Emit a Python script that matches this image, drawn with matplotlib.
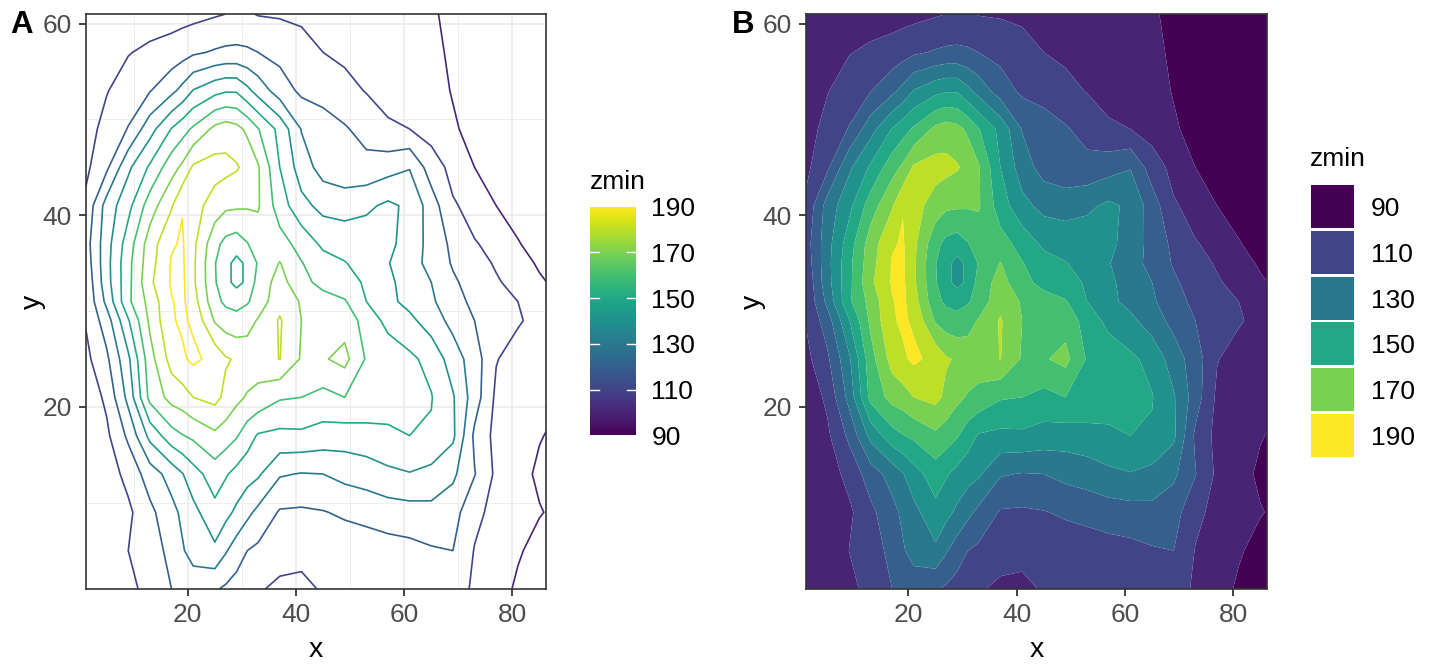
import numpy as np
import matplotlib
matplotlib.use("Agg")
import matplotlib.pyplot as plt
from matplotlib.cm import ScalarMappable
from matplotlib.colors import Normalize

plt.rcParams['font.family'] = ['Liberation Sans', 'DejaVu Sans']

# Height field
grid_x = [1, 5, 9, 13, 17, 19, 21, 25, 27, 29, 31, 33, 37, 41, 45, 49, 53, 57, 61, 65, 69, 73, 77, 81, 85, 89]
grid_y = [1, 5, 9, 13, 17, 21, 25, 29, 31, 33, 35, 37, 41, 45, 49, 53, 57, 61]
z_y01 = [100.5,103,107.5,113,120,122,124,121,118.5,116,113.5,111,108,107.5,111,113,114,115,115,114,113,109,104,98.5,96,95]
z_y05 = [101,103,110,115,123,129,134,138,131,125,120,118,114,113,114,114,115,116,117,119,120,109.5,106,101,97,95]
z_y09 = [100.5,104,108,117.5,127,132,137,147,143,138,132.5,127.5,119,118.5,119.5,121.5,123,125,126,127,124,112.5,107,104,100.5,98]
z_y13 = [102,105,113,125,134,139.5,146,155,151,147,144,141.5,131,129.5,130,133,135,138,139.5,137,132,120.5,108,103,98.5,97]
z_y17 = [101,108,122,143,156,159.5,162,168,165,161,154.5,149,147.5,148,146,145,146,147.5,150,149,142,118,107,104,100.5,98]
z_y21 = [103,112,133,163,173.5,175.5,180,183,177.5,172.5,169,167,161,160,157,160,158,156,154,150.5,141,125,108,105,102,100.5]
z_y25 = [107,118,138,166,184,188.5,192,187,181,179,176,175,180.3,169,169,173,159,156,152,147,135,125,110.5,106,103,101.5]
z_y29 = [110.3,125,149,172,189,191.5,188.5,169,165,163,166,171,181,170,165,166,156,147,142.5,135,127,120,116.5,111,107,104]
z_y31 = [110.7,132.5,158,173.5,189.5,192,184.5,163,158,157,159,164,177,169,164,161,150,142.5,137,131.5,124,117.5,113.5,110,103,100]
z_y33 = [111.4,136,157,178,191,192,182,161,153,147,152,164,174,163,157,153,149,142,136,130,121.5,116,111,107,101,98]
z_y35 = [113.5,136.5,157,176,190.8,191.5,182,160.5,153,147,152,161,170.5,160.5,154,150.5,146,140.5,134,127,119,113.5,109,103,99,96]
z_y37 = [115,136,155,175,189,191,182.5,163,157,155,159.5,165,164,156.5,148,146,146,143,135,127,117.5,110.5,108,100.5,97,95]
z_y41 = [111.6,134,147,165,179,189.5,184,175.5,172,171.5,171,171,155,143,137,136,138,142,138,125,111,107,100,97,95,93]
z_y45 = [107.5,118,138,151.5,166,172,181.5,184,183,181,177,171,150,135,126,123,123,126,129.5,115,107,100,97,95,94,92]
z_y49 = [106,113,120.5,136,150.5,156,161.5,172.5,175,173,168,160.5,147,129.5,125,121,116.5,111.3,110,106,101,97.5,96,95,94,92]
z_y53 = [104,109.5,114.5,119.5,127.5,133,140.5,147,149,149,142.5,136,125,118,116,113,109.5,107,105,103,99.5,97.5,96,95,94,92]
z_y57 = [102,105,109.5,112,114,116,118.5,121,122,122,121.5,120,117,114,110,108,106.5,105,103.5,101.5,99,98,97,96,95,93]
z_y61 = [103,104,105,105,106,106.5,107,109,110,112,111,109.5,109,108,107,106,105,104,102,100.5,99,98,97,96,95,94]

line_levels = [100, 110, 120, 130, 140, 150, 160, 170, 180, 190]
fill_levels = [90, 100, 110, 120, 130, 140, 150, 160, 170, 180, 190, 200]
x_ticks = [20, 40, 60, 80]
x_minor = [10, 30, 50, 70]
y_ticks = [20, 40, 60]
y_minor = [10, 30, 50]
legend_values = [90, 110, 130, 150, 170, 190]

Z = np.array([z_y01, z_y05, z_y09, z_y13, z_y17, z_y21, z_y25, z_y29, z_y31, z_y33,
              z_y35, z_y37, z_y41, z_y45, z_y49, z_y53, z_y57, z_y61])
X = np.array(grid_x)
Y = np.array(grid_y)

W, H = 1440, 672
DPI = 100
fig = plt.figure(figsize=(W / DPI, H / DPI), dpi=DPI)

def box(l, t, r, b):
    return [l / W, 1 - b / H, (r - l) / W, (b - t) / H]

cmap = plt.get_cmap('viridis')
norm = Normalize(90, 190)
INK = '#333333'
TICK = '#4D4D4D'
FS = 19

def style(ax):
    ax.set_xlim(1.1, 86.2)
    ax.set_ylim(1.0, 61.0)
    ax.set_xticks(x_ticks)
    ax.set_yticks(y_ticks)
    ax.set_xticks(x_minor, minor=True)
    ax.set_yticks(y_minor, minor=True)
    ax.grid(True, which='major', color='#EBEBEB', lw=1.2)
    ax.grid(True, which='minor', color='#EBEBEB', lw=0.6)
    ax.set_axisbelow(True)
    ax.tick_params(which='minor', length=0)
    ax.tick_params(which='major', length=5, width=1.3, color=INK,
                   labelcolor=TICK, labelsize=FS)
    ax.tick_params(axis='x', which='major', pad=5)
    ax.tick_params(axis='y', which='major', pad=5)
    for s in ax.spines.values():
        s.set_color(INK)
        s.set_linewidth(1.2)
    ax.set_xlabel('x', fontsize=20.5, labelpad=7)
    ax.set_ylabel('y', fontsize=20.5, labelpad=-2.5)

# Panel A
axA = fig.add_axes(box(85.5, 14, 546, 589))
style(axA)
axA.contour(X, Y, Z, levels=line_levels, cmap=cmap, norm=norm, linewidths=1.2)

# Panel B
axB = fig.add_axes(box(806, 14, 1267, 589))
style(axB)
axB.contourf(X, Y, Z, levels=fill_levels,
             colors=[cmap(norm(v)) for v in fill_levels[:-1]], antialiased=True)

# Colour bar for A
cax = fig.add_axes(box(590, 206.6, 636, 435.5))
cb = fig.colorbar(ScalarMappable(norm=norm, cmap=cmap), cax=cax, ticks=legend_values)
cb.outline.set_visible(False)
cb.ax.tick_params(which='both', length=0, labelsize=FS, labelcolor='black', pad=11)
for v in legend_values[1:-1]:
    cb.ax.plot([0, 0.2], [v, v], color='white', lw=1, transform=cb.ax.get_yaxis_transform())
    cb.ax.plot([0.8, 1], [v, v], color='white', lw=1, transform=cb.ax.get_yaxis_transform())
fig.text(590 / W, 1 - 182 / H, 'zmin', fontsize=FS, va='center', ha='left')

# Key for B
lax = fig.add_axes(box(1311, 184, 1354, 458))
pos = np.arange(len(legend_values))
lax.barh(pos, 1, height=0.935, color=[cmap(norm(v)) for v in legend_values])
lax.set_xlim(0, 1)
lax.set_ylim(len(legend_values) - 0.5, -0.5)
lax.set_xticks([])
lax.set_yticks(pos)
lax.set_yticklabels([str(v) for v in legend_values], fontsize=FS, ha='left')
lax.yaxis.tick_right()
lax.tick_params(axis='y', length=0, pad=12)
for s in lax.spines.values():
    s.set_visible(False)
fig.text(1310 / W, 1 - 159 / H, 'zmin', fontsize=FS, va='center', ha='left')

fig.text(10 / W, 1 - 25 / H, 'A', fontsize=22.5, fontweight='bold', va='center', ha='left')
fig.text(732 / W, 1 - 25 / H, 'B', fontsize=22.5, fontweight='bold', va='center', ha='left')

fig.savefig('out.png', dpi=DPI)
